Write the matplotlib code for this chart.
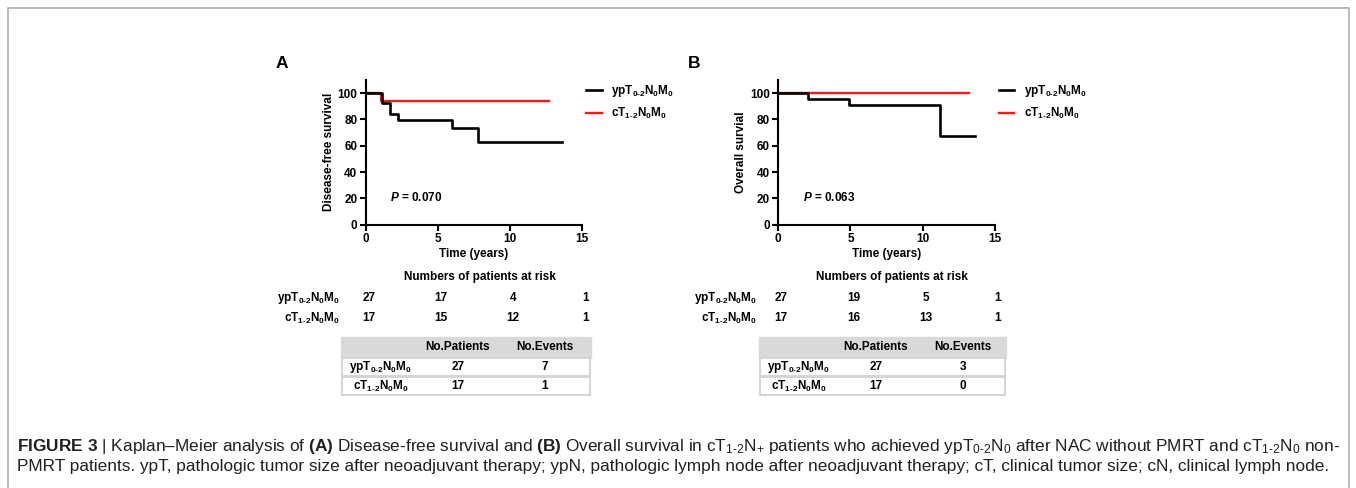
import numpy as np
import matplotlib
matplotlib.use("Agg")
import matplotlib.pyplot as plt
import matplotlib.transforms as mtransforms
from matplotlib.patches import Rectangle

plt.rcParams['font.family'] = ['Liberation Sans', 'DejaVu Sans']
plt.rcParams['mathtext.fontset'] = 'custom'
plt.rcParams['mathtext.rm'] = 'Liberation Sans'
plt.rcParams['mathtext.bf'] = 'Liberation Sans:bold'
plt.rcParams['mathtext.it'] = 'Liberation Sans:bold:italic'

W, H = 1356, 488
FS = 8.5

# ---- data ----
times = [0, 5, 10, 15]
groups = ['ypT$_{\\mathbf{0\u20102}}$N$_{\\mathbf{0}}$M$_{\\mathbf{0}}$',
          'cT$_{\\mathbf{1\u20102}}$N$_{\\mathbf{0}}$M$_{\\mathbf{0}}$']

a_black_t = [0, 1.1, 1.69, 2.27, 5.97, 7.75, 13.6]
a_black_s = [100, 92.6, 84.0, 79.5, 73.5, 63.0, 63.0]
a_red_t = [0, 1.03, 12.7]
a_red_s = [100, 94.1, 94.1]

b_black_t = [0, 2.08, 4.92, 11.2, 13.6]
b_black_s = [100, 95.7, 91.2, 67.7, 67.7]
b_red_t = [0, 13.2]
b_red_s = [100, 100]

a_risk = [[27, 17, 4, 1], [17, 15, 12, 1]]
b_risk = [[27, 19, 5, 1], [17, 16, 13, 1]]

a_patients = [27, 17]
a_events = [7, 1]
b_patients = [27, 17]
b_events = [3, 0]


def fx(x):
    return x / W


def fy(y):
    return 1 - y / H


fig = plt.figure(figsize=(W / 100, H / 100), dpi=100)

# outer frame
fig.patches.append(Rectangle((fx(8), fy(520)), fx(1349 - 8), (520 - 8) / H,
                             transform=fig.transFigure, fill=False,
                             edgecolor='#a8a8a8', lw=1.1))

panels = [
    dict(letter='A', left=365.7, ylabel='Disease-free survival', pval='0.070',
         black=(a_black_t, a_black_s), red=(a_red_t, a_red_s), risk=a_risk,
         pat=a_patients, ev=a_events, lab_right=340, tab_left=341, tab_w=250),
    dict(letter='B', left=778.3, ylabel='Overall survial', pval='0.063',
         black=(b_black_t, b_black_s), red=(b_red_t, b_red_s), risk=b_risk,
         pat=b_patients, ev=b_events, lab_right=757, tab_left=759, tab_w=247),
]

for p in panels:
    ax = fig.add_axes([fx(p['left']), fy(224.7), 216.5 / W, (224.7 - 80) / H])
    ax.step(p['red'][0], p['red'][1], where='post', color='#ee1c1c', lw=1.7,
            label=groups[1], zorder=2)
    ax.step(p['black'][0], p['black'][1], where='post', color='black', lw=1.9,
            label=groups[0], zorder=3)
    ax.set_xlim(0, 15)
    ax.set_ylim(0, 110)
    ax.set_xticks(times)
    ax.set_yticks([0, 20, 40, 60, 80, 100])
    for s in ['top', 'right']:
        ax.spines[s].set_visible(False)
    for s in ['left', 'bottom']:
        ax.spines[s].set_linewidth(1.5)
    ax.tick_params(width=1.5, length=4.5, labelsize=FS, pad=1.5)
    for lab in ax.get_xticklabels() + ax.get_yticklabels():
        lab.set_fontweight('bold')
    ax.set_ylabel(p['ylabel'], fontsize=FS, fontweight='bold', labelpad=2)
    ax.set_xlabel('Time (years)', fontsize=FS, fontweight='bold', labelpad=2)
    ax.text(1.7, 21, r'$P$ = ' + p['pval'], fontsize=FS, fontweight='bold',
            va='center')
    h, l = ax.get_legend_handles_labels()
    ax.legend(h[::-1], l[::-1], loc='upper left', bbox_to_anchor=(0.97, 1.05),
              frameon=False, prop={'weight': 'bold', 'size': FS},
              handlelength=1.3, handletextpad=0.8, labelspacing=0.55)
    fig.text(fx(p['left'] - 90), fy(64), p['letter'], fontsize=12.5,
             fontweight='bold', va='center')

    # numbers at risk
    tr = mtransforms.blended_transform_factory(ax.transData, fig.transFigure)
    tr = tr + mtransforms.ScaledTranslation(3 / 100, 0, fig.dpi_scale_trans)
    fig.text(fx(p['left'] + 114), fy(277), 'Numbers of patients at risk',
             fontsize=FS, fontweight='bold', ha='center', va='center')
    for r, row in enumerate(p['risk']):
        yy = fy(298 + 20 * r)
        fig.text(fx(p['lab_right']), yy, groups[r], fontsize=FS,
                 fontweight='bold', ha='right', va='center')
        for t, n in zip(times, row):
            ax.text(t, yy, str(n), transform=tr, fontsize=FS,
                    fontweight='bold', ha='center', va='center')

    # summary table
    x0, tw = p['tab_left'], p['tab_w']
    tops = [337.3, 357.7, 376.7]
    bots = [357.7, 376.7, 395.7]
    fig.patches.append(Rectangle((fx(x0), fy(bots[0])), tw / W,
                                 (bots[0] - tops[0]) / H,
                                 transform=fig.transFigure,
                                 facecolor='#d9d9d9', edgecolor='#d9d9d9',
                                 lw=1.0))
    for k in (1, 2):
        fig.patches.append(Rectangle((fx(x0 + 1), fy(bots[k] - 1)),
                                     (tw - 2) / W, (bots[k] - tops[k] - 1.5) / H,
                                     transform=fig.transFigure,
                                     facecolor='white', edgecolor='#d4d4d4',
                                     lw=1.4))
    cols = [x0 + 40, x0 + 117, x0 + 204]
    ymid = [(a + b) / 2 for a, b in zip(tops, bots)]
    fig.text(fx(cols[1]), fy(ymid[0]), 'No.Patients', fontsize=FS,
             fontweight='bold', ha='center', va='center')
    fig.text(fx(cols[2]), fy(ymid[0]), 'No.Events', fontsize=FS,
             fontweight='bold', ha='center', va='center')
    for r in range(2):
        fig.text(fx(cols[0]), fy(ymid[r + 1]), groups[r], fontsize=FS,
                 fontweight='bold', ha='center', va='center')
        fig.text(fx(cols[1]), fy(ymid[r + 1]), str(p['pat'][r]), fontsize=FS,
                 fontweight='bold', ha='center', va='center')
        fig.text(fx(cols[2]), fy(ymid[r + 1]), str(p['ev'][r]), fontsize=FS,
                 fontweight='bold', ha='center', va='center')

# caption
cap1 = ('$\\mathbf{FIGURE\\ 3}$ | Kaplan\u2013Meier analysis of $\\mathbf{(A)}$ '
        'Disease-free survival and $\\mathbf{(B)}$ Overall survival in '
        'cT$_{1\u20102}$N$_{+}$ patients who achieved ypT$_{0\u20102}$N$_{0}$ '
        'after NAC without PMRT and cT$_{1\u20102}$N$_{0}$ non-')
cap2 = ('PMRT patients. ypT, pathologic tumor size after neoadjuvant therapy; '
        'ypN, pathologic lymph node after neoadjuvant therapy; cT, clinical '
        'tumor size; cN, clinical lymph node.')
fig.text(fx(17), fy(446), cap1, fontsize=12.4, color='#231f20', va='center')
fig.text(fx(17), fy(467), cap2, fontsize=12.4, color='#231f20', va='center')

fig.savefig('out.png', dpi=100)
